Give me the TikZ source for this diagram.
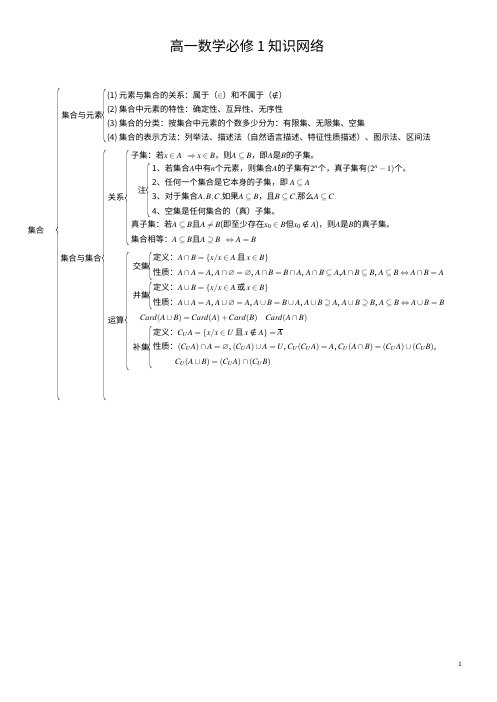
\documentclass[tikz,border=0pt]{standalone}
\usepackage{mathptmx}
\usepackage{amssymb}
\usepackage[no-math]{fontspec}
\setmainfont{Noto Sans CJK SC}
\newfontfamily\djv{DejaVu Sans}
\newcommand{\nin}{\mathrel{\hbox{\djv\fontsize{7.6}{9}\selectfont ∉}}}
\usetikzlibrary{decorations.pathreplacing}
\thickmuskip=4mu plus 1mu
\medmuskip=3mu plus 1mu
\thinmuskip=2.5mu
\tikzset{
 txt/.style={anchor=west, inner sep=0pt, font=\fontsize{8.2}{10}\selectfont},
 lbl/.style={anchor=center, inner sep=0pt, font=\fontsize{8.2}{10}\selectfont},
 brc/.style={decorate, decoration={brace, amplitude=3.5pt, aspect=#1}, line width=0.45pt, draw=black!85},
 brc/.default=0.5
}
\begin{document}
\begin{tikzpicture}[x=1pt,y=-1pt]
\useasboundingbox (0,0) rectangle (496,702);
% title
\node[anchor=center, inner sep=0pt, font=\fontsize{14}{16}\selectfont] (title) at (247,46) {高一数学必修 1 知识网络};
% level 0
\node[lbl] (jihe) at (36,230) {集合};
\coordinate (b0t) at (59.5,88); \coordinate (b0b) at (59.5,400);
\draw[brc=0.545] (b0b) -- (b0t);
% level 1
\node[lbl] (yuansu) at (82,115) {集合与元素};
\coordinate (b1t) at (105.5,89); \coordinate (b1b) at (105.5,142);
\draw[brc=0.51] (b1b) -- (b1t);
\node[txt] (r1) at (107,96) {(1)\ 元素与集合的关系：属于（$\in$）和不属于（$\nin$）};
\node[txt] (r2) at (107,110) {(2)\ 集合中元素的特性：确定性、互异性、无序性};
\node[txt] (r3) at (107,124) {(3)\ 集合的分类：按集合中元素的个数多少分为：有限集、无限集、空集};
\node[txt] (r4) at (107,138) {(4)\ 集合的表示方法：列举法、描述法（自然语言描述、特征性质描述）、图示法、区间法};
\node[lbl] (jj) at (81,258) {集合与集合};
\coordinate (b2t) at (105.5,150); \coordinate (b2b) at (105.5,400);
\draw[brc=0.568] (b2b) -- (b2t);
% guanxi
\node[lbl] (gx) at (116,197) {关系};
\coordinate (b3t) at (128.5,150); \coordinate (b3b) at (128.5,245);
\draw[brc=0.495] (b3b) -- (b3t);
\node[txt] (zj) at (131,156) {子集：若$x\in A\ \ \Rightarrow x\in B$，则$A\subseteq B$，即$A$是$B$的子集。};
\node[lbl] (zhu) at (142,190) {注};
\coordinate (b4t) at (149.5,163); \coordinate (b4b) at (149.5,217);
\draw[brc=0.5] (b4b) -- (b4t);
\node[txt] (z1) at (152,169) {1、若集合$A$中有$n$个元素，则集合$A$的子集有$2^n$个，真子集有$(2^n-1)$个。};
\node[txt] (z2) at (152,183) {2、任何一个集合是它本身的子集，即\ $A\subseteq A$};
\node[txt] (z3) at (152,197) {3、对于集合$A,B,C,$如果$A\subseteq B$，且$B\subseteq C,$那么$A\subseteq C.$};
\node[txt] (z4) at (152,211) {4、空集是任何集合的（真）子集。};
\node[txt] (zzj) at (131,225) {真子集：若$A\subseteq B$且$A\neq B$(即至少存在$x_0\in B$但$x_0\nin A$)，则$A$是$B$的真子集。};
\node[txt] (xd) at (131,240) {集合相等：$A\subseteq B$且$A\supseteq B\ \ \Leftrightarrow A=B$};
% yunsuan
\node[lbl] (ys) at (116,320) {运算};
\coordinate (b5t) at (128.5,252); \coordinate (b5b) at (128.5,370);
\draw[brc=0.424] (b5b) -- (b5t);
\node[lbl] (jiao) at (141,266) {交集};
\coordinate (b6t) at (151.5,252); \coordinate (b6b) at (151.5,280);
\draw[brc=0.5] (b6b) -- (b6t);
\node[txt] (j1) at (153,258) {定义：$A\cap B=\{x/x\in A$\,且\,$x\in B\}$};
\node[txt] (j2) at (153,273) {性质：$A\cap A=A$, $A\cap\varnothing=\varnothing$, $A\cap B=B\cap A$, $A\cap B\subseteq A$,$A\cap B\subseteq B$, $A\subseteq B\Leftrightarrow A\cap B=A$};
\node[lbl] (bing) at (141,295) {并集};
\coordinate (b7t) at (151.5,282); \coordinate (b7b) at (151.5,309);
\draw[brc=0.52] (b7b) -- (b7t);
\node[txt] (p1) at (153,288) {定义：$A\cup B=\{x/x\in A$\,或\,$x\in B\}$};
\node[txt] (p2) at (153,303) {性质：$A\cup A=A$, $A\cup\varnothing=A$, $A\cup B=B\cup A$, $A\cup B\supseteq A$, $A\cup B\supseteq B$, $A\subseteq B\Leftrightarrow A\cup B=B$};
\node[txt] (card) at (140,318) {$Card(A\cup B)=Card(A)+Card(B)\quad Card(A\cap B)$};
\node[lbl] (bu) at (141,347) {补集};
\coordinate (b8t) at (151.5,326); \coordinate (b8b) at (151.5,368);
\draw[brc=0.5] (b8b) -- (b8t);
\node[txt] (c1) at (153,333) {定义：$C_U A=\{x/x\in U$\,且\,$x\nin A\}=\overline{A}$};
\node[txt] (c2) at (153,347) {性质：$(C_U A)\cap A=\varnothing$, $(C_U A)\cup A=U$, $C_U(C_U A)=A$, $C_U(A\cap B)=(C_U A)\cup(C_U B)$,};
\node[txt] (c3) at (175,362) {$C_U(A\cup B)=(C_U A)\cap(C_U B)$};
% page number
\node[anchor=center, inner sep=0pt, font=\fontsize{6}{7}\selectfont] (pg) at (460,664) {1};
\end{tikzpicture}
\end{document}
